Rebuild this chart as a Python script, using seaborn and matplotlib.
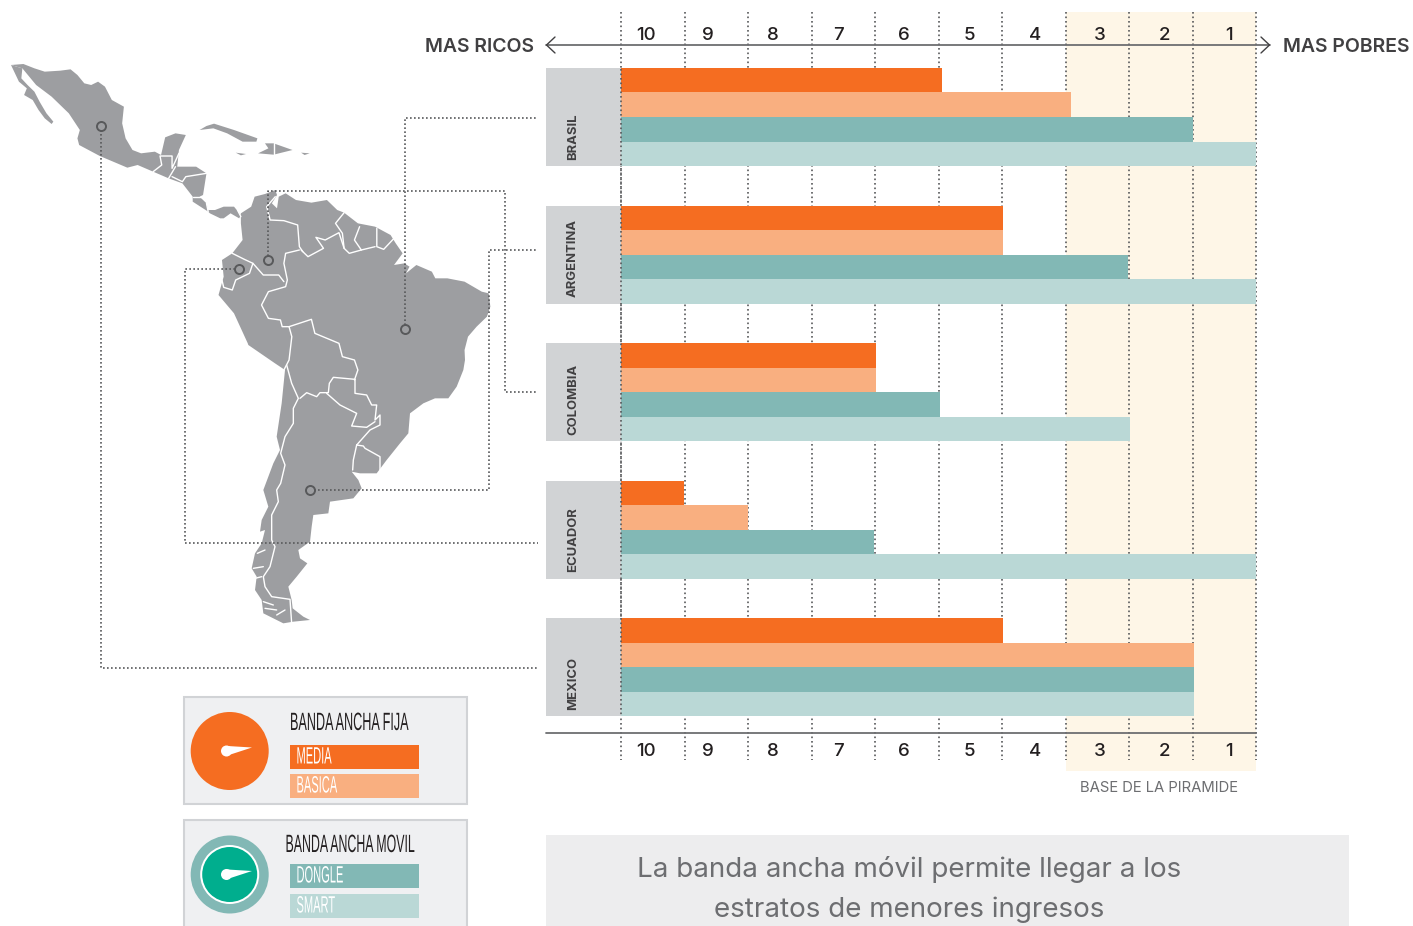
import numpy as np
import pandas as pd
import matplotlib
matplotlib.use('Agg')
import matplotlib.pyplot as plt
from matplotlib.patches import Circle, Polygon, Rectangle
from matplotlib.patheffects import AbstractPathEffect
from matplotlib.transforms import Affine2D
import seaborn as sns

# Datos: hasta que decil llega cada servicio (contado desde el decil 10)
paises = ['BRASIL', 'ARGENTINA', 'COLOMBIA', 'ECUADOR', 'MEXICO']
tipos = ['MEDIA', 'BASICA', 'DONGLE', 'SMART']
media = [5.05, 6.01, 4.01, 0.99, 6.01]
basica = [7.08, 6.01, 4.01, 2.0, 9.02]
dongle = [9.0, 7.98, 5.02, 3.99, 9.02]
smart = [10.0, 10.0, 8.02, 10.0, 9.02]
deciles = ['10', '9', '8', '7', '6', '5', '4', '3', '2', '1']

colores = {'MEDIA': '#f56d21', 'BASICA': '#f9af80', 'DONGLE': '#82b8b5', 'SMART': '#bad8d6'}
GRIS_TXT = '#414042'
PUNTOS = '#58595b'

sns.set_style('white')
plt.rcParams['font.family'] = ['Inter', 'DejaVu Sans']

W, H = 1413, 926
fig = plt.figure(figsize=(W / 100, H / 100), dpi=100)


def caja(x0, y0, x1, y1):
    return [x0 / W, 1 - y1 / H, (x1 - x0) / W, (y1 - y0) / H]


# Grafico de barras
ax = fig.add_axes(caja(546, 12, 1270, 771), zorder=1)
df = pd.DataFrame({'pais': paises * 4,
                   'tipo': np.repeat(tipos, 5),
                   'valor': media + basica + dongle + smart})
sns.barplot(data=df, y='pais', x='valor', hue='tipo', order=paises, hue_order=tipos,
            palette=colores, width=0.7127, gap=0, saturation=1, linewidth=0,
            legend=False, zorder=3, ax=ax)


def py(px):
    return (px - 392.2) / 137.6 + 2


ax.set_xlim((546 - 621) / 63.5, (1270 - 621) / 63.5)
ax.set_ylim(py(771), py(12))
ax.axvspan(7, 10, color='#fef6e7', lw=0, zorder=0)
ax.barh(range(5), width=75 / 63.5, left=-75 / 63.5, height=0.7127, color='#d1d3d5', lw=0, zorder=2)
ax.vlines(range(11), py(12), py(760), color=PUNTOS, lw=1.2, linestyle=(0, (1, 1.7)), zorder=1)
ax.vlines(0, py(69), py(717), color=PUNTOS, lw=1.2, linestyle=(0, (1, 1.7)), zorder=4)
for i, p in enumerate(paises):
    ax.text(-0.755, i + 0.31, p, rotation=90, ha='center', va='bottom', fontsize=9.4,
            fontweight='bold', color=GRIS_TXT, zorder=5)
ax.set_xlabel('')
ax.set_ylabel('')
ax.axis('off')
ax.patch.set_alpha(0)

# Capa en pixeles para el mapa, lineas y leyenda
ov = fig.add_axes([0, 0, 1, 1], zorder=2)
ov.set_xlim(0, W)
ov.set_ylim(H, 0)
ov.axis('off')
ov.patch.set_alpha(0)

# Ejes superior e inferior
ov.plot([546, 1270], [45, 45], color='#6d6e71', lw=1.3)
ov.plot([546, 1256], [733, 733], color='#6d6e71', lw=1.3)
ov.plot([555, 546.5, 555], [37, 45, 53], color='#414042', lw=1)
ov.plot([1261, 1269.5, 1261], [37, 45, 53], color='#414042', lw=1)
ov.text(534, 46.5, 'MAS RICOS', ha='right', va='center', fontsize=14, fontweight='semibold', color=GRIS_TXT)
ov.text(1283, 46.5, 'MAS POBRES', ha='left', va='center', fontsize=14, fontweight='semibold', color=GRIS_TXT)
xdec = [646, 708, 773, 838, 904, 969, 1035, 1100, 1165, 1229]
for x, d in zip(xdec, deciles):
    ov.text(x, 35.5, d, ha='center', va='center', fontsize=13.5, fontweight='medium', color='#231f20')
    ov.text(x, 752, d, ha='center', va='center', fontsize=13.5, fontweight='medium', color='#231f20')
ov.text(1159, 788, 'BASE DE LA PIRAMIDE', ha='center', va='center', fontsize=10.7, color='#6d6e71')

# Mapa, trazado a mano sobre la imagen
def z1(pts):
    return [(x / 2.906, 50 + y / 3) for x, y in pts]


def z2(pts):
    return [(170 + x / 3, 320 + y / 3) for x, y in pts]


GRIS_MAPA = '#9d9ea1'
mexico = z1([(32, 45), (68, 42), (100, 55), (130, 65), (175, 62), (205, 58), (225, 75), (245, 100),
             (265, 105), (285, 95), (305, 110), (325, 150), (360, 170), (355, 220), (365, 265), (385, 300),
             (410, 310), (450, 305), (468, 315), (480, 262), (510, 250), (540, 255), (520, 300), (515, 350),
             (570, 350), (600, 370), (590, 435), (580, 440), (600, 460), (605, 480), (625, 480), (650, 470),
             (680, 470), (700, 495), (695, 505), (670, 490), (650, 505), (640, 505), (610, 490), (605, 485),
             (560, 455), (560, 440), (530, 400), (490, 385), (445, 365), (400, 345), (370, 353), (290, 318),
             (230, 285), (225, 265), (232, 240), (200, 190), (150, 140), (105, 105), (65, 55)])
baja = z1([(32, 45), (65, 55), (62, 85), (80, 105), (100, 125), (115, 155), (135, 190), (155, 215), (150, 222),
           (130, 205), (112, 180), (95, 150), (70, 135), (78, 115), (55, 95)])
cuba = z1([(580, 240), (600, 228), (622, 221), (680, 240), (748, 265), (745, 275), (705, 275), (660, 250), (620, 235)])
espanola = z1([(770, 280), (795, 280), (850, 300), (795, 314), (750, 310), (780, 295)])
jamaica = z1([(685, 308), (715, 312), (700, 316)])
pr = z1([(875, 308), (900, 310), (885, 315)])
sudamerica = z1([(700, 490), (730, 470), (740, 440), (770, 432), (800, 420), (805, 435), (790, 460), (805, 475),
                 (810, 440), (830, 430), (860, 450), (905, 458), (950, 450), (980, 480), (1000, 488), (1040, 520),
                 (1090, 530), (1135, 555), (1150, 580), (1170, 610), (1145, 645), (1175, 640), (1190, 650),
                 (1180, 670), (1210, 645), (1255, 665), (1265, 685), (1300, 685), (1350, 695), (1400, 725),
                 (1420, 730), (1425, 770), (1415, 800), (1385, 830), (1360, 860), (1350, 900)]) + \
    z2([(885, 120), (880, 150), (860, 200), (835, 235), (795, 235), (760, 250), (720, 280), (715, 340), (690, 370),
        (670, 395), (650, 420), (620, 460), (570, 460), (545, 455), (565, 480), (575, 505), (550, 535), (480, 545),
        (475, 580), (430, 585), (425, 620), (420, 665), (385, 690), (390, 715), (412, 730), (380, 770), (355, 800),
        (365, 840), (368, 865), (400, 890), (420, 900), (370, 905), (340, 910), (310, 895), (280, 880), (275, 840),
        (255, 810), (260, 770), (245, 745), (255, 700), (275, 670), (285, 630), (270, 635), (275, 600), (295, 560),
        (280, 510), (310, 430), (330, 390), (320, 350), (335, 250), (345, 150), (315, 130), (235, 75)]) + \
    z1([(720, 880), (680, 790), (635, 735), (650, 680), (645, 630), (675, 610), (705, 570), (700, 520)])
for pol in [mexico, baja, cuba, espanola, jamaica, pr, sudamerica]:
    ov.add_patch(Polygon(pol, closed=True, fc=GRIS_MAPA, ec='none'))

fronteras_z1 = [
    [(675, 610), (710, 628), (735, 640), (765, 675), (810, 675), (825, 695)],
    [(735, 640), (725, 670), (685, 690), (675, 720), (650, 712), (645, 690)],
    [(800, 440), (775, 470), (785, 510), (825, 512), (865, 525), (870, 590), (880, 605)],
    [(870, 600), (830, 610), (825, 640), (835, 690), (830, 710), (780, 725), (760, 765), (780, 805), (815, 810),
     (820, 830), (840, 830)],
    [(875, 600), (895, 620), (940, 595), (918, 562), (945, 570), (985, 548), (1000, 595)],
    [(1000, 488), (975, 520), (995, 550), (1000, 595), (1015, 610), (1050, 600), (1030, 570), (1045, 530)],
    [(1095, 535), (1095, 590), (1115, 598), (1145, 565)],
    [(1050, 600), (1090, 590)],
    [(445, 365), (470, 345), (465, 318), (500, 318), (500, 355), (520, 310)],
    [(490, 385), (510, 350)],
    [(500, 380), (530, 395), (540, 380), (600, 370)],
    [(560, 440), (590, 440)],
    [(600, 460), (605, 485)],
    [(690, 480), (700, 500)],
    [(795, 280), (795, 314)],
    [(840, 830), (848, 860), (840, 930), (825, 960)],
    [(840, 830), (905, 808), (915, 850), (985, 880), (995, 920), (1030, 930), (1040, 960), (1030, 990)],
]
fronteras_z2 = [
    [(555, 178), (555, 220), (590, 225), (605, 255), (620, 255), (615, 300), (630, 285), (630, 315), (600, 330),
     (560, 375)],
    [(555, 178), (490, 172), (478, 190), (475, 218), (450, 218), (440, 230), (410, 218), (390, 235)],
    [(350, 135), (365, 190), (385, 235), (370, 265), (370, 310), (345, 350), (332, 400), (345, 435), (332, 490),
     (320, 510), (325, 545), (305, 585), (305, 660), (315, 680), (300, 740), (280, 770), (285, 800), (305, 830),
     (360, 838), (365, 910)],
    [(470, 220), (510, 255), (560, 280), (545, 318), (590, 322), (615, 305)],
    [(560, 375), (550, 420), (548, 450)],
    [(560, 375), (580, 378), (585, 385), (630, 410), (630, 450)],
    # canales del extremo sur
    [(280, 845), (310, 855)], [(285, 865), (320, 870)], [(320, 885), (345, 870)], [(250, 745), (280, 740)],
    [(255, 775), (275, 770)], [(262, 700), (285, 690)],
]
for f in [z1(t) for t in fronteras_z1] + [z2(t) for t in fronteras_z2]:
    ov.plot(*zip(*f), color='white', lw=1, solid_joinstyle='round')

# Lineas punteadas desde cada pais hasta sus barras
guias = [
    [(405, 329), (405, 118), (538, 118)],
    [(309.5, 490), (489, 490), (489, 250), (538, 250)],
    [(268, 260), (268, 191), (505, 191), (505, 392), (538, 392)],
    [(238.5, 269), (185, 269), (185, 543), (538, 543)],
    [(101, 126), (101, 668), (538, 668)],
]
for g in guias:
    ov.plot(*zip(*g), color=PUNTOS, lw=1.2, linestyle=(0, (1, 1.4)))
    ov.plot(*g[0], 'o', ms=6.5, mfc=GRIS_MAPA, mec='#58595b', mew=1.4)


# Leyenda
class Estrecha(AbstractPathEffect):
    # comprime el texto a lo ancho, la fuente condensada no esta instalada
    def __init__(self, fx):
        super().__init__()
        self.fx = fx

    def draw_path(self, renderer, gc, tpath, affine, rgbFace=None):
        renderer.draw_path(gc, tpath, Affine2D().scale(self.fx, 1) + affine, rgbFace)


def aguja(cx, cy):
    ov.add_patch(Circle((cx, cy), 5.5, fc='white', ec='none'))
    ov.add_patch(Polygon([(cx + 1, cy - 5), (cx + 25.5, cy - 3.5), (cx + 4, cy + 3.5)], fc='white', ec='none'))


def etiqueta(x, y, s, color, size=17, fx=0.49):
    ov.text(x, y, s, ha='left', va='center', fontsize=size, color=color, family='Liberation Sans',
            path_effects=[Estrecha(fx)])


for y0, y1 in [(697, 804), (820, 940)]:
    ov.add_patch(Rectangle((184, y0), 283, y1 - y0, fc='#eff0f2', ec='#d1d3d6', lw=1.5, clip_on=True))

ov.add_patch(Circle((229.7, 751), 39, fc=colores['MEDIA'], ec='none'))
aguja(226.5, 751)
ov.add_patch(Circle((229.7, 874.5), 39, fc=colores['DONGLE'], ec='none'))
ov.add_patch(Circle((229.7, 874.5), 29.5, fc='white', ec='none'))
ov.add_patch(Circle((229.7, 874.5), 27.5, fc='#00ae8e', ec='none'))
aguja(226.5, 874.5)

etiqueta(290, 723, 'BANDA ANCHA FIJA', '#231f20', size=18, fx=0.505)
etiqueta(285.5, 845, 'BANDA ANCHA MOVIL', '#231f20', size=18, fx=0.495)
for y, t in zip([745, 774, 864, 894], tipos):
    ov.add_patch(Rectangle((290, y), 129, 24, fc=colores[t], ec='none'))
    etiqueta(296.5, y + 12.5, t, 'white', fx=0.47)

# Mensaje inferior
ov.add_patch(Rectangle((546, 835), 803, 95, fc='#ededee', ec='none'))
ov.text(909.5, 869.5, 'La banda ancha móvil permite llegar a los', ha='center', va='center', fontsize=20, color='#6d6e71')
ov.text(909.5, 909.5, 'estratos de menores ingresos', ha='center', va='center', fontsize=20, color='#6d6e71')

fig.savefig('out.png', dpi=100)
